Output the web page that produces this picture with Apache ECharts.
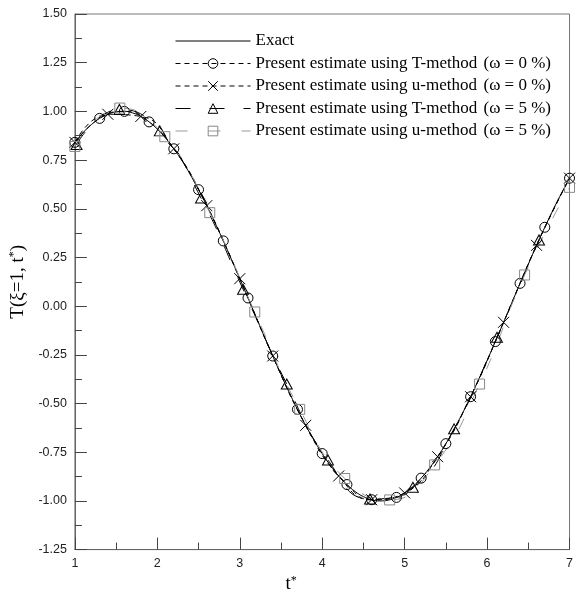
<!DOCTYPE html>
<html><head><meta charset="utf-8">
<script src="https://cdn.jsdelivr.net/npm/echarts@6/dist/echarts.min.js"></script>
<style>html,body{margin:0;padding:0;background:#fff}#c{width:576px;height:599px}</style>
</head><body><div id="c"></div>
<script>
// Exact solution curve
const exactT = [1.0,1.1,1.2,1.3,1.4,1.5,1.6,1.7,1.8,1.9,2.0,2.1,2.2,2.3,2.4,2.5,2.6,2.7,2.8,2.9,3.0,3.1,3.2,3.3,3.4,3.5,3.6,3.7,3.8,3.9,4.0,4.1,4.2,4.3,4.4,4.5,4.6,4.7,4.8,4.9,5.0,5.1,5.2,5.3,5.4,5.5,5.6,5.7,5.8,5.9,6.0,6.1,6.2,6.3,6.4,6.5,6.6,6.7,6.8,6.9,7.0];
const exactV = [0.841,0.891,0.932,0.964,0.985,0.997,1.000,0.992,0.974,0.946,0.909,0.863,0.808,0.746,0.675,0.598,0.516,0.427,0.335,0.239,0.141,0.042,-0.058,-0.158,-0.256,-0.351,-0.443,-0.530,-0.612,-0.688,-0.757,-0.818,-0.872,-0.916,-0.952,-0.978,-0.994,-1.000,-0.996,-0.982,-0.959,-0.926,-0.883,-0.832,-0.773,-0.706,-0.631,-0.551,-0.465,-0.374,-0.279,-0.182,-0.083,0.017,0.117,0.215,0.312,0.405,0.494,0.578,0.657];

// T-method, omega = 0 %
const tm0T = [1.0,1.3,1.6,1.9,2.2,2.5,2.8,3.1,3.4,3.7,4.0,4.3,4.6,4.9,5.2,5.5,5.8,6.1,6.4,6.7,7.0];
const tm0V = [0.841,0.964,1.000,0.946,0.808,0.598,0.335,0.042,-0.256,-0.530,-0.757,-0.916,-0.994,-0.982,-0.883,-0.706,-0.465,-0.182,0.117,0.405,0.657];

// u-method, omega = 0 %
const um0T = [1.0,1.4,1.8,2.2,2.6,3.0,3.4,3.8,4.2,4.6,5.0,5.4,5.8,6.2,6.6,7.0];
const um0V = [0.841,0.985,0.974,0.808,0.516,0.141,-0.256,-0.612,-0.872,-0.994,-0.959,-0.773,-0.465,-0.083,0.312,0.657];

// T-method, omega = 5 %
const tm5T = [1.02,1.54,2.03,2.53,3.04,3.57,4.07,4.58,5.10,5.60,6.12,6.63];
const tm5V = [0.83,1.01,0.90,0.555,0.087,-0.40,-0.79,-0.99,-0.93,-0.63,-0.16,0.34];

// u-method, omega = 5 %
const um5T = [1.0,1.545,2.091,2.636,3.182,3.727,4.273,4.818,5.364,5.909,6.455,7.0];
const um5V = [0.82,1.017,0.87,0.48,-0.03,-0.53,-0.885,-0.995,-0.815,-0.40,0.16,0.61];

const xTicks = [1,2,3,4,5,6,7];
const yTicks = [-1.25,-1.00,-0.75,-0.50,-0.25,0.00,0.25,0.50,0.75,1.00,1.25,1.50];

const exactName = 'Exact';
const methodLabels = ['Present estimate using T-method','Present estimate using u-method','Present estimate using T-method','Present estimate using u-method'];
const omegaLabels = ['(ω = 0 %)','(ω = 0 %)','(ω = 5 %)','(ω = 5 %)'];
const estNames = methodLabels.map((m,i)=>m+' '+omegaLabels[i]);

const pairs = (t,v)=>t.map((x,i)=>[x,v[i]]);
const serif = 'Liberation Serif';
const sans = 'Liberation Sans';

const hollow = (c)=>({color:'rgba(255,255,255,0)', borderColor:c, borderWidth:1});

const chart = echarts.init(document.getElementById('c'), null, {renderer:'canvas'});
chart.setOption({
  animation:false,
  backgroundColor:'#fff',
  grid:{left:70, top:14, right:2, bottom:38, show:true, borderColor:'#777', borderWidth:1},
  legend:{
    orient:'vertical', left:170, top:27.5, itemWidth:75, itemHeight:12, itemGap:5.5,
    lineStyle:{width:1}, itemStyle:{borderWidth:1},
    data:[{name:exactName, itemStyle:{opacity:0}}].concat(estNames),
    textStyle:{fontFamily:serif, fontSize:17, color:'#000', lineHeight:12,
      rich:{a:{fontFamily:serif, fontSize:17, color:'#000', width:228}, b:{fontFamily:serif, fontSize:17, color:'#000'}}},
    formatter:(name)=>{
      const i = estNames.indexOf(name);
      if(i<0) return name;
      return '{a|'+methodLabels[i]+'}{b|'+omegaLabels[i]+'}';
    }
  },
  xAxis:{
    type:'value', min:xTicks[0], max:xTicks[xTicks.length-1], interval:1,
    name:'{n|t}{s|*}', nameLocation:'middle', nameGap:20,
    nameTextStyle:{padding:[0,62,0,0], rich:{n:{fontFamily:serif, fontSize:19, color:'#000'}, s:{fontFamily:serif, fontSize:12, color:'#000', padding:[0,0,8,0]}}},
    axisLine:{onZero:false, lineStyle:{color:'#666', width:1}},
    axisTick:{inside:true, length:12, lineStyle:{color:'#444'}},
    minorTick:{show:true, splitNumber:2, length:7, lineStyle:{color:'#444'}},
    splitLine:{show:false},
    axisLabel:{fontFamily:sans, fontSize:12.5, color:'#222', margin:7, formatter:(v)=>String(v)}
  },
  yAxis:{
    type:'value', min:yTicks[0], max:yTicks[yTicks.length-1], interval:0.25,
    name:'{n|T(ξ=1, t}{s|*}{n|)}', nameLocation:'middle', nameGap:44,
    nameTextStyle:{rich:{n:{fontFamily:serif, fontSize:19, color:'#000'}, s:{fontFamily:serif, fontSize:12, color:'#000', padding:[0,0,8,0]}}},
    axisLine:{onZero:false, lineStyle:{color:'#666', width:1}},
    axisTick:{inside:true, length:12, lineStyle:{color:'#444'}},
    minorTick:{show:true, splitNumber:2, length:7, lineStyle:{color:'#444'}},
    splitLine:{show:false},
    axisLabel:{fontFamily:sans, fontSize:12.5, color:'#222', margin:8, formatter:(v)=>v.toFixed(2)}
  },
  series:[
    {name:exactName, type:'line', data:pairs(exactT,exactV), smooth:true, symbol:'none',
      itemStyle:{color:'#000'}, lineStyle:{color:'#000', width:1}, z:2},
    {name:estNames[0], type:'line', data:pairs(tm0T,tm0V), smooth:true, symbol:'circle', symbolSize:10,
      itemStyle:hollow('#000'), lineStyle:{color:'#000', width:1, type:[5,4]}, z:3},
    {name:estNames[1], type:'line', data:pairs(um0T,um0V), smooth:true, symbol:'path://M0,0L10,10M10,0L0,10', symbolSize:11,
      itemStyle:hollow('#000'), lineStyle:{color:'#000', width:1, type:[5,4]}, z:3},
    {name:estNames[2], type:'line', data:pairs(tm5T,tm5V), smooth:true, symbol:'triangle', symbolSize:[11,10],
      itemStyle:hollow('#000'), lineStyle:{color:'#000', width:1, type:[15,19]}, z:3},
    {name:estNames[3], type:'line', data:pairs(um5T,um5V), smooth:true, symbol:'rect', symbolSize:10,
      itemStyle:hollow('#888'), lineStyle:{color:'#999', width:1, type:[12,21]}, z:3}
  ]
});
</script>
</body></html>
